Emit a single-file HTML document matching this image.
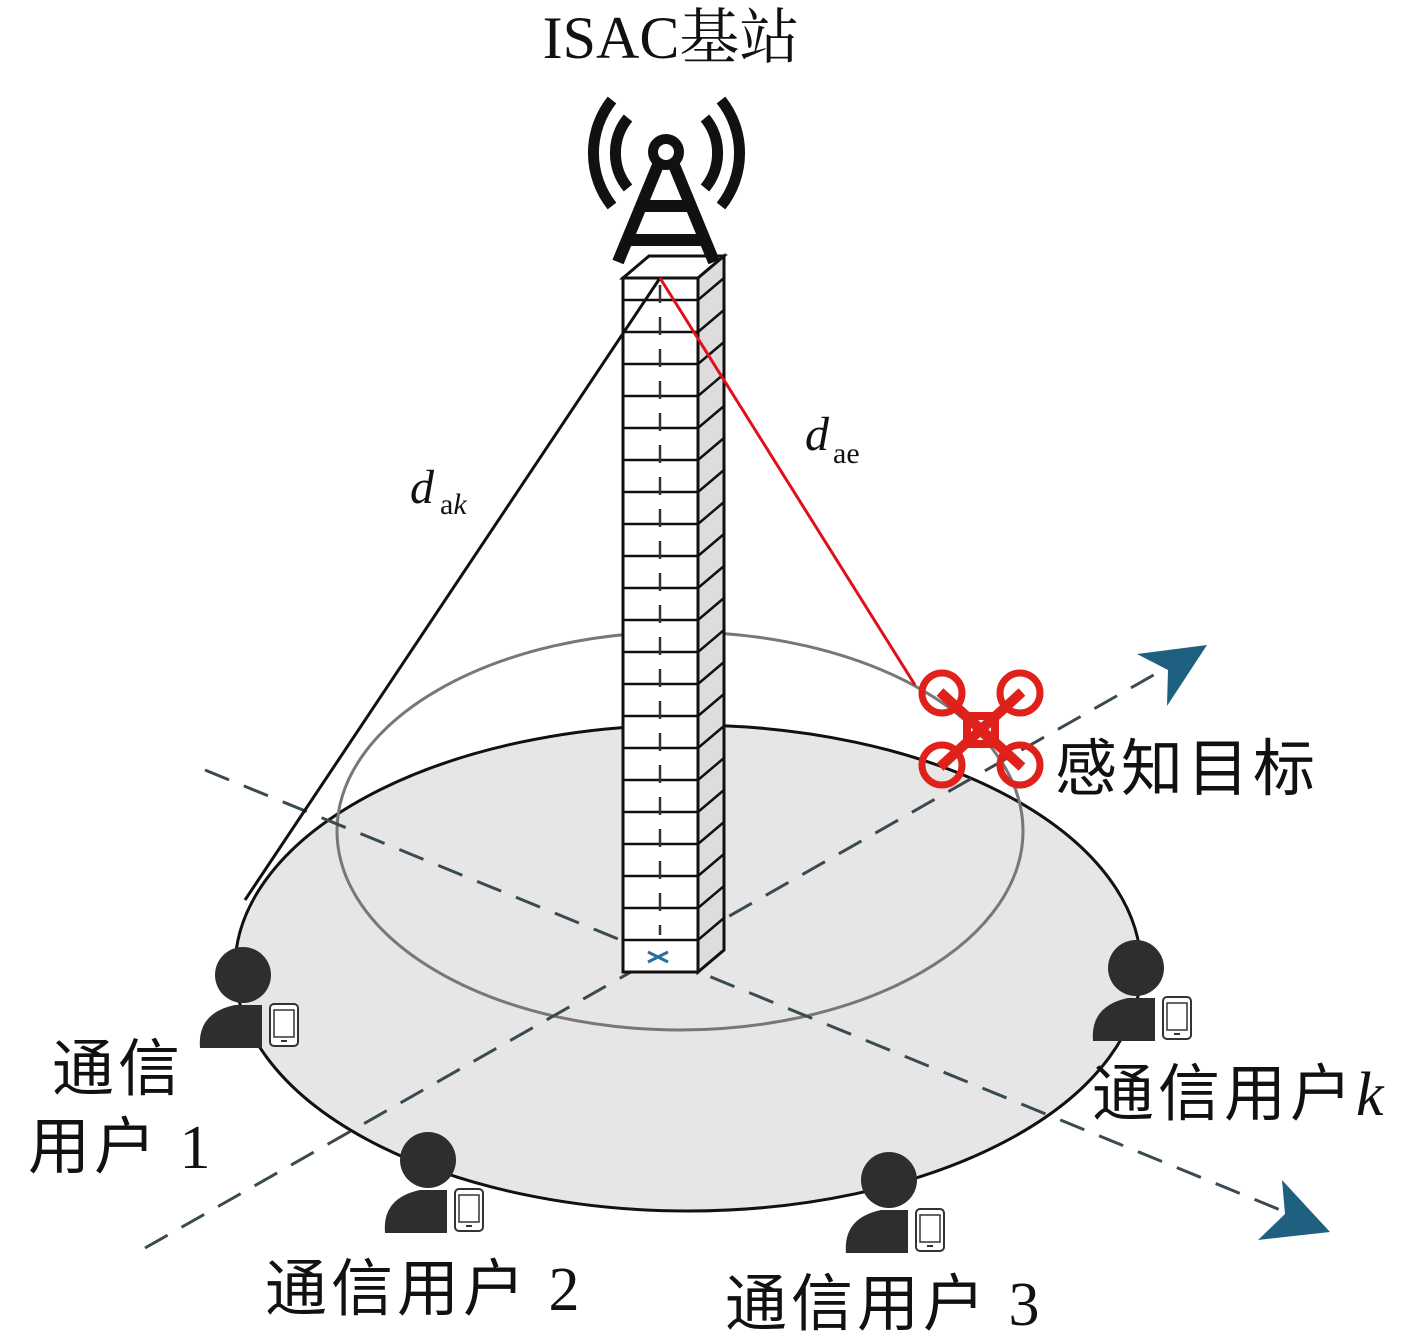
<!DOCTYPE html>
<html><head><meta charset="utf-8"><style>html,body{margin:0;padding:0;background:#fff}svg{display:block}</style></head>
<body>
<svg width="1417" height="1342" viewBox="0 0 1417 1342" xmlns="http://www.w3.org/2000/svg">
<rect width="1417" height="1342" fill="#fff"/>
<defs>
<g id="u">
<circle cx="0" cy="0" r="28" fill="#2e2e2e"/>
<path d="M19,30 L19,73 L-43,73 Q-46,38 -8,30 Z" fill="#2e2e2e"/>
<rect x="27" y="29" width="28" height="42" rx="4" fill="#fff" stroke="#333" stroke-width="2"/>
<rect x="31" y="35" width="20" height="27" fill="none" stroke="#333" stroke-width="1.5"/>
<line x1="38" y1="66" x2="44" y2="66" stroke="#333" stroke-width="2"/>
</g>
</defs>
<ellipse cx="688" cy="968" rx="453" ry="243" fill="#e6e6e6" stroke="#111" stroke-width="3"/>
<ellipse cx="680" cy="831" rx="343" ry="199" fill="none" stroke="#777" stroke-width="3"/>
<!-- axes -->
<line x1="205" y1="770" x2="1300" y2="1218" stroke="#3a4a50" stroke-width="3" stroke-dasharray="26,16"/>
<path d="M1330,1232 L1258,1240 L1285,1214 L1282,1180 Z" fill="#1f5f7f"/>
<line x1="145" y1="1248" x2="1180" y2="660" stroke="#3a4a50" stroke-width="3" stroke-dasharray="26,16"/>
<path d="M1207,645 L1167,706 L1168,670 L1137,654 Z" fill="#1f5f7f"/>
<!-- tower -->
<g stroke="#111" stroke-width="3">
<path d="M623,278 L698,278 L724,256 L649,256 Z" fill="#fff"/>
<rect x="623" y="278" width="75" height="694" fill="#fff"/>
<path d="M698,278 L724,256 L724,950 L698,972 Z" fill="#ddd"/>
</g>
<g stroke="#111" stroke-width="2.5">
<line x1="623" y1="300" x2="698" y2="300"/><line x1="698" y1="300" x2="724" y2="278"/>
<line x1="623" y1="332" x2="698" y2="332"/><line x1="698" y1="332" x2="724" y2="310"/>
<line x1="623" y1="364" x2="698" y2="364"/><line x1="698" y1="364" x2="724" y2="342"/>
<line x1="623" y1="396" x2="698" y2="396"/><line x1="698" y1="396" x2="724" y2="374"/>
<line x1="623" y1="428" x2="698" y2="428"/><line x1="698" y1="428" x2="724" y2="406"/>
<line x1="623" y1="460" x2="698" y2="460"/><line x1="698" y1="460" x2="724" y2="438"/>
<line x1="623" y1="492" x2="698" y2="492"/><line x1="698" y1="492" x2="724" y2="470"/>
<line x1="623" y1="524" x2="698" y2="524"/><line x1="698" y1="524" x2="724" y2="502"/>
<line x1="623" y1="556" x2="698" y2="556"/><line x1="698" y1="556" x2="724" y2="534"/>
<line x1="623" y1="588" x2="698" y2="588"/><line x1="698" y1="588" x2="724" y2="566"/>
<line x1="623" y1="620" x2="698" y2="620"/><line x1="698" y1="620" x2="724" y2="598"/>
<line x1="623" y1="652" x2="698" y2="652"/><line x1="698" y1="652" x2="724" y2="630"/>
<line x1="623" y1="684" x2="698" y2="684"/><line x1="698" y1="684" x2="724" y2="662"/>
<line x1="623" y1="716" x2="698" y2="716"/><line x1="698" y1="716" x2="724" y2="694"/>
<line x1="623" y1="748" x2="698" y2="748"/><line x1="698" y1="748" x2="724" y2="726"/>
<line x1="623" y1="780" x2="698" y2="780"/><line x1="698" y1="780" x2="724" y2="758"/>
<line x1="623" y1="812" x2="698" y2="812"/><line x1="698" y1="812" x2="724" y2="790"/>
<line x1="623" y1="844" x2="698" y2="844"/><line x1="698" y1="844" x2="724" y2="822"/>
<line x1="623" y1="876" x2="698" y2="876"/><line x1="698" y1="876" x2="724" y2="854"/>
<line x1="623" y1="908" x2="698" y2="908"/><line x1="698" y1="908" x2="724" y2="886"/>
<line x1="623" y1="940" x2="698" y2="940"/><line x1="698" y1="940" x2="724" y2="918"/>
</g>
<line x1="660" y1="285" x2="660" y2="935" stroke="#333" stroke-width="2.5" stroke-dasharray="18,14"/>
<path d="M648,952 L668,962 M648,962 L668,952" stroke="#2a6f9f" stroke-width="3"/>
<!-- distance lines -->
<line x1="660" y1="278" x2="245" y2="900" stroke="#111" stroke-width="3"/>
<line x1="660" y1="278" x2="915" y2="685" stroke="#e0101a" stroke-width="3"/>
<!-- antenna -->
<g fill="none" stroke="#111" stroke-linecap="butt">
<circle cx="666" cy="152" r="13" stroke-width="10"/>
<path d="M658,165 L618,262 M674,165 L714,262 M642,206 L690,206 M625,240 L707,240" stroke-width="12"/>
<path d="M628,118 A55,55 0 0 0 628,188" stroke-width="11"/>
<path d="M705,118 A55,55 0 0 1 705,188" stroke-width="11"/>
<path d="M612,100 A85,85 0 0 0 612,206" stroke-width="11"/>
<path d="M721,100 A85,85 0 0 1 721,206" stroke-width="11"/>
</g>
<!-- drone -->
<g stroke="#e0201a" fill="none">
<circle cx="942" cy="693" r="20" stroke-width="7"/>
<circle cx="1020" cy="693" r="20" stroke-width="7"/>
<circle cx="942" cy="765" r="20" stroke-width="7"/>
<circle cx="1020" cy="765" r="20" stroke-width="7"/>
<path d="M940,692 L1022,767 M1022,692 L940,767" stroke-width="10"/>
<rect x="967" y="716" width="28" height="28" stroke-width="8"/>
</g>
<!-- users -->
<use href="#u" x="243" y="975"/>
<use href="#u" x="428" y="1160"/>
<use href="#u" x="889" y="1180"/>
<use href="#u" x="1136" y="968"/>
<!-- text -->
<g font-family="Liberation Serif, Noto Serif CJK SC, serif" fill="#111">
<text x="671" y="58" font-size="60" text-anchor="middle">ISAC基站</text>
<text x="410" y="503" font-size="48" font-style="italic">d</text>
<text x="440" y="514" font-size="30">a<tspan font-style="italic">k</tspan></text>
<text x="805" y="450" font-size="48" font-style="italic">d</text>
<text x="833" y="463" font-size="30">ae</text>
</g>
<g font-family="Liberation Serif, Noto Sans CJK SC, serif" fill="#111" font-size="62" letter-spacing="4">
<text x="1055" y="790">感知目标</text>
<text x="52" y="1090">通信</text>
<text x="28" y="1168">用户 1</text>
<text x="265" y="1310">通信用户 2</text>
<text x="725" y="1325">通信用户 3</text>
<text x="1092" y="1115">通信用户<tspan font-style="italic">k</tspan></text>
</g>
</svg>
</body></html>
